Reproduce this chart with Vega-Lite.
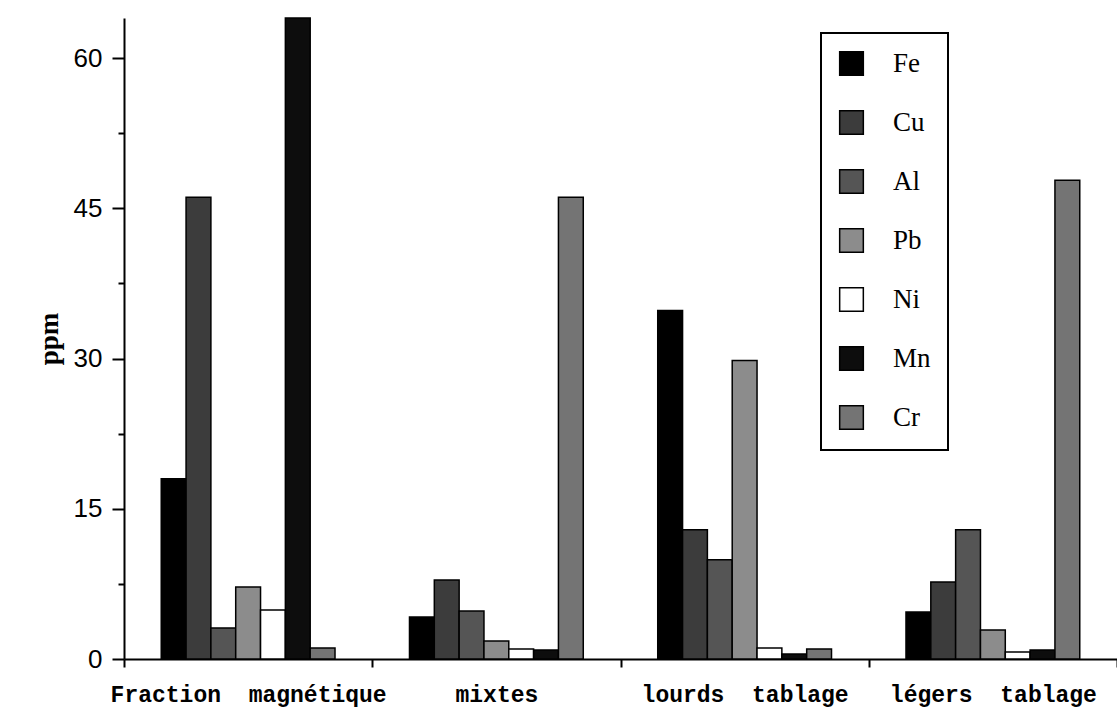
{
  "$schema": "https://vega.github.io/schema/vega-lite/v6.json",
  "width": 993,
  "height": 641,
  "autosize": {"type": "none"},
  "padding": {"left": 124, "top": 18, "right": 0, "bottom": 67},
  "background": "white",
  "data": {
    "values": [
      {"fraction": "Fraction magnétique", "element": "Fe", "ppm": 18.0},
      {"fraction": "Fraction magnétique", "element": "Cu", "ppm": 46.1},
      {"fraction": "Fraction magnétique", "element": "Al", "ppm": 3.1},
      {"fraction": "Fraction magnétique", "element": "Pb", "ppm": 7.2},
      {"fraction": "Fraction magnétique", "element": "Ni", "ppm": 4.9},
      {"fraction": "Fraction magnétique", "element": "Mn", "ppm": 64.0},
      {"fraction": "Fraction magnétique", "element": "Cr", "ppm": 1.1},
      {"fraction": "mixtes", "element": "Fe", "ppm": 4.2},
      {"fraction": "mixtes", "element": "Cu", "ppm": 7.9},
      {"fraction": "mixtes", "element": "Al", "ppm": 4.8},
      {"fraction": "mixtes", "element": "Pb", "ppm": 1.8},
      {"fraction": "mixtes", "element": "Ni", "ppm": 1.0},
      {"fraction": "mixtes", "element": "Mn", "ppm": 0.9},
      {"fraction": "mixtes", "element": "Cr", "ppm": 46.1},
      {"fraction": "lourds tablage", "element": "Fe", "ppm": 34.8},
      {"fraction": "lourds tablage", "element": "Cu", "ppm": 12.9},
      {"fraction": "lourds tablage", "element": "Al", "ppm": 9.9},
      {"fraction": "lourds tablage", "element": "Pb", "ppm": 29.8},
      {"fraction": "lourds tablage", "element": "Ni", "ppm": 1.1},
      {"fraction": "lourds tablage", "element": "Mn", "ppm": 0.5},
      {"fraction": "lourds tablage", "element": "Cr", "ppm": 1.0},
      {"fraction": "légers tablage", "element": "Fe", "ppm": 4.7},
      {"fraction": "légers tablage", "element": "Cu", "ppm": 7.7},
      {"fraction": "légers tablage", "element": "Al", "ppm": 12.9},
      {"fraction": "légers tablage", "element": "Pb", "ppm": 2.9},
      {"fraction": "légers tablage", "element": "Ni", "ppm": 0.7},
      {"fraction": "légers tablage", "element": "Mn", "ppm": 0.9},
      {"fraction": "légers tablage", "element": "Cr", "ppm": 47.8}
    ]
  },
  "mark": {"type": "bar", "stroke": "black", "strokeWidth": 1.5},
  "encoding": {
    "x": {
      "field": "fraction",
      "type": "nominal",
      "sort": ["Fraction magnétique", "mixtes", "lourds tablage", "légers tablage"],
      "scale": {"paddingInner": 0, "paddingOuter": 0},
      "axis": {
        "title": null,
        "labelAngle": 0,
        "tickBand": "extent",
        "tickSize": 8,
        "tickWidth": 2,
        "tickColor": "black",
        "domainColor": "black",
        "domainWidth": 2,
        "labelPadding": 16,
        "labelFont": "Liberation Mono",
        "labelFontWeight": "bold",
        "labelFontSize": 23,
        "labelColor": "black",
        "labelLimit": 500,
        "labelExpr": "replace(datum.label, ' ', '\u00a0 ')"
      }
    },
    "xOffset": {
      "field": "element",
      "type": "nominal",
      "scale": {
        "domain": ["_start", "Fe", "Cu", "Al", "Pb", "Ni", "Mn", "Cr", "_end"],
        "paddingInner": 0,
        "paddingOuter": 0.5
      }
    },
    "y": {
      "field": "ppm",
      "type": "quantitative",
      "scale": {"domain": [0, 64], "nice": false},
      "axis": {
        "title": "ppm",
        "titleFont": "Liberation Serif",
        "titleFontWeight": "bold",
        "titleFontSize": 27,
        "titleColor": "black",
        "titlePadding": 10,
        "values": [0, 7.5, 15, 22.5, 30, 37.5, 45, 52.5, 60],
        "labelExpr": "datum.value % 15 === 0 ? datum.label : ''",
        "tickSize": {"condition": {"test": "datum.value % 15 === 0", "value": 12}, "value": 6},
        "tickWidth": 2,
        "tickColor": "black",
        "domainColor": "black",
        "domainWidth": 2,
        "grid": false,
        "labelFont": "Liberation Sans",
        "labelFontSize": 26,
        "labelColor": "black",
        "labelPadding": 10
      }
    },
    "fill": {
      "field": "element",
      "type": "nominal",
      "scale": {
        "domain": ["Fe", "Cu", "Al", "Pb", "Ni", "Mn", "Cr"],
        "range": ["#000000", "#3c3c3c", "#555555", "#8c8c8c", "#ffffff", "#0d0d0d", "#747474"]
      },
      "legend": {
        "title": null,
        "orient": "none",
        "legendX": 697,
        "legendY": 15,
        "padding": 17,
        "strokeColor": "black",
        "symbolType": "square",
        "symbolSize": 560,
        "symbolStrokeColor": "black",
        "symbolStrokeWidth": 1.5,
        "labelFont": "Liberation Serif",
        "labelFontSize": 27,
        "labelColor": "black",
        "labelOffset": 28,
        "rowPadding": 28,
        "encode": {"legend": {"update": {"strokeWidth": {"value": 2}}}}
      }
    }
  },
  "config": {"view": {"stroke": null}}
}
